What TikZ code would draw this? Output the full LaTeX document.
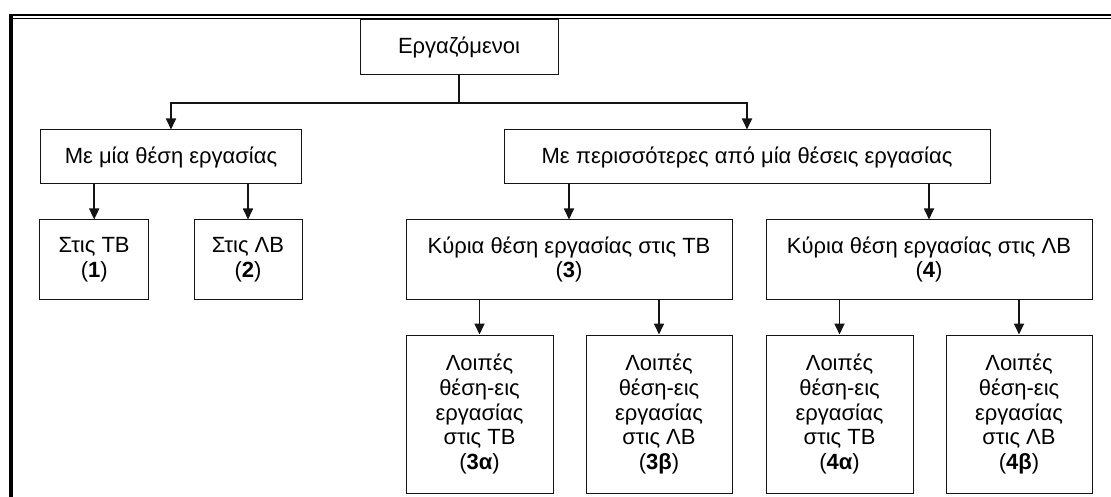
\documentclass[tikz,border=0pt]{standalone}
\usepackage{fontspec}
\setmainfont{Liberation Sans}
\usetikzlibrary{arrows.meta}
\definecolor{line-black}{RGB}{20, 20, 20}
\tikzset{
  box/.style={draw=line-black, line width=1pt, inner sep=0pt, align=center},
  conn/.style={draw=line-black, line width=1.7pt},
  arr/.style={conn, -{Triangle[width=10pt,length=11pt]}}
}

\begin{document}
\begin{tikzpicture}[x=1pt, y=-1pt, font=\fontsize{22}{24.7}\selectfont]
\useasboundingbox (0,0) rectangle (1111,497);
% frame
\draw[line width=2pt] (9,15) -- (1111,15);
\draw[line width=1.5pt] (13,18.5) -- (1111,18.5);
\draw[line width=4pt] (11.3,14) -- (11.3,497);

\node[box, minimum width=198pt, minimum height=55pt] (emp) at (459,47.5) {Εργαζόμενοι};
\node[box, minimum width=261pt, minimum height=54pt] (single) at (171,157) {Με μία θέση εργασίας};
\node[box, minimum width=486pt, minimum height=54pt] (multi) at (747,157) {Με περισσότερες από μία θέσεις εργασίας};

\node[box, minimum width=109pt, minimum height=79pt] (one) at (94.2,259.5) {Στις ΤΒ\\(\textbf{1})};
\node[box, minimum width=108pt, minimum height=79pt] (two) at (248,259.5) {Στις ΛΒ\\(\textbf{2})};
\node[box, minimum width=326pt, minimum height=79pt] (three) at (569,259.5) {Κύρια θέση εργασίας στις ΤΒ\\(\textbf{3})};
\node[box, minimum width=326pt, minimum height=79pt] (four) at (929,259.5) {Κύρια θέση εργασίας στις ΛΒ\\(\textbf{4})};

\node[box, minimum width=147pt, minimum height=158pt] (threea) at (479.5,414) {Λοιπές\\θέση-εις\\εργασίας\\στις ΤΒ\\(\textbf{3α})};
\node[box, minimum width=146pt, minimum height=158pt] (threeb) at (659,414) {Λοιπές\\θέση-εις\\εργασίας\\στις ΛΒ\\(\textbf{3β})};
\node[box, minimum width=147pt, minimum height=158pt] (foura) at (839.5,414) {Λοιπές\\θέση-εις\\εργασίας\\στις ΤΒ\\(\textbf{4α})};
\node[box, minimum width=146pt, minimum height=158pt] (fourb) at (1019,414) {Λοιπές\\θέση-εις\\εργασίας\\στις ΛΒ\\(\textbf{4β})};

% connectors
\coordinate (split) at (459,103);
\draw[conn] (emp.south) -- (split);
\draw[arr] (split) -| (single.north);
\draw[arr] (split) -| (multi.north);

\draw[arr] (single.south -| one.north) -- (one.north);
\draw[arr] (single.south -| two.north) -- (two.north);
\draw[arr] (multi.south -| three.north) -- (three.north);
\draw[arr] (multi.south -| four.north) -- (four.north);

\draw[arr] (three.south -| threea.north) -- (threea.north);
\draw[arr] (three.south -| threeb.north) -- (threeb.north);
\draw[arr] (four.south -| foura.north) -- (foura.north);
\draw[arr] (four.south -| fourb.north) -- (fourb.north);
\end{tikzpicture}
\end{document}
